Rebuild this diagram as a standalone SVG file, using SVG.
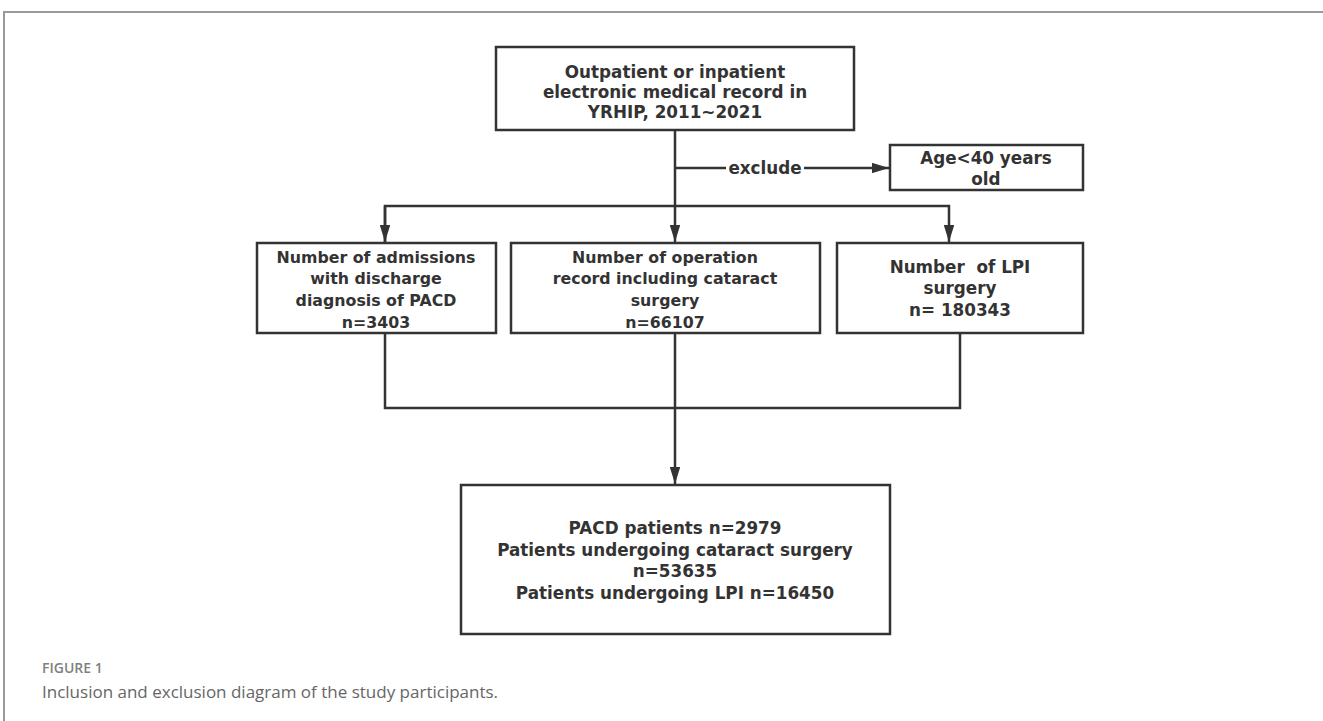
<svg xmlns="http://www.w3.org/2000/svg" width="1323" height="721" viewBox="0 0 1323 721">
<defs>
<marker id="ah" viewBox="0 0 18 11" refX="18" refY="5.5" markerWidth="7" markerHeight="4.3" markerUnits="strokeWidth" orient="auto">
<path d="M0,0 L18,5.5 L0,11 z" fill="#333"/>
</marker>
<style>
.box{fill:#fff;stroke:#333;stroke-width:2.5}
.t{font-family:"DejaVu Sans",sans-serif;font-weight:bold;font-size:16.8px;fill:#333;text-anchor:middle;dominant-baseline:central}
.m{font-size:15.8px}
.ln{fill:none;stroke:#333;stroke-width:2.5}
.frame{fill:none;stroke:#999;stroke-width:2}
.cap1{font-family:"Open Sans","Noto Sans",sans-serif;font-size:14px;fill:#808080;font-weight:600}
.cap2{font-family:"Open Sans","Noto Sans",sans-serif;font-size:17px;fill:#666}
</style>
</defs>
<rect width="1323" height="721" fill="#fff"/>
<path class="frame" d="M4,722 L4,12 L1324,12"/>
<g id="connectors">
<path class="ln" d="M675,130 L675,242" marker-end="url(#ah)"/>
<path class="ln" d="M675,168 L726,168"/>
<path class="ln" d="M804,168 L889,168" marker-end="url(#ah)"/>
<path class="ln" d="M385,242 L385,206 L949,206 L949,242" marker-end="url(#ah)"/>
<path class="ln" d="M385,206 L385,242" marker-end="url(#ah)"/>
<path class="ln" d="M385,333 L385,408 L960,408 L960,333"/>
<path class="ln" d="M675,333 L675,484" marker-end="url(#ah)"/>
<text class="t" x="765" y="168">exclude</text>
</g>
<g id="n-source">
<rect class="box" x="496" y="47" width="358" height="83"/>
<text class="t" x="675" y="72">Outpatient or inpatient</text>
<text class="t" x="675" y="92">electronic medical record in</text>
<text class="t" x="675" y="112">YRHIP, 2011~2021</text>
</g>
<g id="n-age">
<rect class="box" x="890" y="145" width="193" height="45"/>
<text class="t" x="986" y="158">Age&lt;40 years</text>
<text class="t" x="986" y="179">old</text>
</g>
<g id="n-pacd">
<rect class="box" x="257" y="243" width="239" height="90"/>
<text class="t m" x="376" y="257">Number of admissions</text>
<text class="t m" x="376" y="278">with discharge</text>
<text class="t m" x="376" y="300">diagnosis of PACD</text>
<text class="t m" x="376" y="322">n=3403</text>
</g>
<g id="n-cataract">
<rect class="box" x="511" y="243" width="309" height="90"/>
<text class="t m" x="665" y="257">Number of operation</text>
<text class="t m" x="665" y="278">record including cataract</text>
<text class="t m" x="665" y="300">surgery</text>
<text class="t m" x="665" y="322">n=66107</text>
</g>
<g id="n-lpi">
<rect class="box" x="837" y="243" width="246" height="90"/>
<text class="t" x="960" y="267" xml:space="preserve">Number  of LPI</text>
<text class="t" x="960" y="288">surgery</text>
<text class="t" x="960" y="310">n= 180343</text>
</g>
<g id="n-result">
<rect class="box" x="461" y="485" width="429" height="149"/>
<text class="t" x="675" y="528">PACD patients n=2979</text>
<text class="t" x="675" y="550">Patients undergoing cataract surgery</text>
<text class="t" x="675" y="571">n=53635</text>
<text class="t" x="675" y="593">Patients undergoing LPI n=16450</text>
</g>
<text class="cap1" x="42" y="673">FIGURE 1</text>
<text class="cap2" x="42" y="698">Inclusion and exclusion diagram of the study participants.</text>
</svg>
